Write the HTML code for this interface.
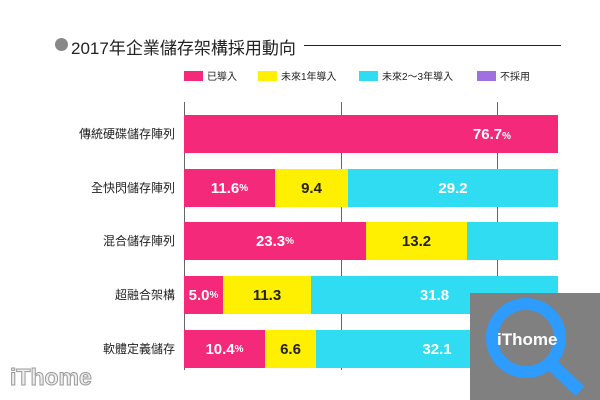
<!DOCTYPE html><html><head><meta charset="utf-8"><style>
body{margin:0;width:600px;height:400px;background:#fff;position:relative;overflow:hidden;font-family:"Liberation Sans","Noto Sans CJK TC",sans-serif}
.a{position:absolute}
.b{position:absolute;height:38px;color:#fff;font-weight:bold;font-size:15px;display:flex;align-items:center;justify-content:center}
.b small{font-size:10px}
.l{position:absolute;right:425px;font-size:12px;color:#222;line-height:38px}
.k{position:absolute;top:71px;font-size:10px;color:#222;line-height:12px}
.k i{display:inline-block;width:19px;height:10px;vertical-align:-1px;margin-right:4px}
</style></head><body>
<div class="a" style="left:55px;top:38px;width:13px;height:13px;border-radius:50%;background:#888"></div>
<div class="a" style="left:71px;top:34px;font-size:17px;color:#222">2017年企業儲存架構採用動向</div>
<div class="a" style="left:304px;top:45px;width:257px;height:1px;background:#222"></div>
<div class="k" style="left:184px"><i style="background:#f5297a"></i>已導入</div>
<div class="k" style="left:258px"><i style="background:#ffef00"></i>未來1年導入</div>
<div class="k" style="left:359px"><i style="background:#2fdcf2"></i>未來2～3年導入</div>
<div class="k" style="left:477px"><i style="background:#a070e0"></i>不採用</div>
<div class="a" style="left:184px;top:102px;width:1px;height:268px;background:#666"></div>
<div class="a" style="left:341px;top:102px;width:1px;height:268px;background:#666"></div>
<div class="a" style="left:497px;top:102px;width:1px;height:268px;background:#666"></div>

<div class="l" style="top:115px">傳統硬碟儲存陣列</div>
<div class="b" style="left:184px;top:115px;width:374px;background:#f5297a;justify-content:flex-end"><span style="margin-right:47px">76.7<small>%</small></span></div>

<div class="l" style="top:169px">全快閃儲存陣列</div>
<div class="b" style="left:184px;top:169px;width:91px;background:#f5297a">11.6<small>%</small></div>
<div class="b" style="left:275px;top:169px;width:73px;background:#ffef00;color:#222">9.4</div>
<div class="b" style="left:348px;top:169px;width:210px;background:#2fdcf2">29.2</div>

<div class="l" style="top:222px">混合儲存陣列</div>
<div class="b" style="left:184px;top:222px;width:182px;background:#f5297a">23.3<small>%</small></div>
<div class="b" style="left:366px;top:222px;width:101px;background:#ffef00;color:#222">13.2</div>
<div class="b" style="left:467px;top:222px;width:91px;background:#2fdcf2"></div>

<div class="l" style="top:276px">超融合架構</div>
<div class="b" style="left:184px;top:276px;width:39px;background:#f5297a">5.0<small>%</small></div>
<div class="b" style="left:223px;top:276px;width:88px;background:#ffef00;color:#222">11.3</div>
<div class="b" style="left:311px;top:276px;width:247px;background:#2fdcf2">31.8</div>

<div class="l" style="top:330px">軟體定義儲存</div>
<div class="b" style="left:184px;top:330px;width:81px;background:#f5297a">10.4<small>%</small></div>
<div class="b" style="left:265px;top:330px;width:51px;background:#ffef00;color:#222">6.6</div>
<div class="b" style="left:316px;top:330px;width:242px;background:#2fdcf2">32.1</div>

<div class="a" style="left:470px;top:293px;width:130px;height:107px;background:#808080"></div>
<svg class="a" style="left:470px;top:293px" width="130" height="107">
<circle cx="56" cy="45" r="34" fill="none" stroke="#2e9bff" stroke-width="12"/>
<line x1="82" y1="72" x2="110" y2="98" stroke="#2e9bff" stroke-width="13"/>
<text x="27" y="52" fill="#fff" font-weight="bold" font-size="17" font-family="Liberation Sans,sans-serif">iThome</text>
</svg>
<div class="a" style="left:10px;top:364px;font-size:23px;font-weight:bold;color:#eee;-webkit-text-stroke:1px #999">iThome</div>
</body></html>
